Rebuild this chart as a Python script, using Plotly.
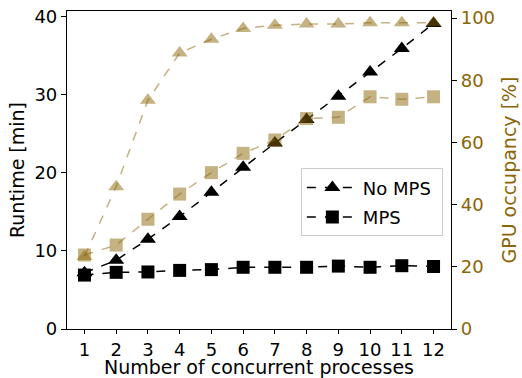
import plotly.graph_objects as go

procs = list(range(1, 13))
runtime_no_mps = [7.2, 8.8, 11.5, 14.4, 17.5, 20.7, 23.8, 26.8, 29.8, 32.9, 35.9, 39.1]
runtime_mps = [6.9, 7.25, 7.3, 7.5, 7.6, 7.9, 7.9, 7.9, 8.05, 7.9, 8.1, 8.0]
occ_no_mps = [23.3, 45.8, 73.6, 88.8, 93.2, 96.7, 97.7, 98.1, 98.1, 98.5, 98.5, 98.5]
occ_mps = [23.8, 27.0, 35.3, 43.4, 50.3, 56.5, 60.8, 67.7, 68.1, 74.7, 73.9, 74.7]

GOLD = "#8B6508"
TAN = "rgba(139,101,8,0.5)"
FONT = "DejaVu Sans"
TICK = 18
TITLE = 19

fig = go.Figure()
fig.add_trace(go.Scatter(x=procs, y=runtime_no_mps, name="No MPS\u00a0", mode="lines+markers",
                         legendgroup="a",
                         line=dict(color="black", dash="dash", width=1.5),
                         marker=dict(symbol="triangle-up", size=14, color="black")))
fig.add_trace(go.Scatter(x=procs, y=runtime_mps, name="MPS", mode="lines+markers",
                         legendgroup="b",
                         line=dict(color="black", dash="dash", width=1.5),
                         marker=dict(symbol="square", size=13, color="black")))
fig.add_trace(go.Scatter(x=procs, y=occ_no_mps, yaxis="y2", showlegend=False, mode="lines+markers",
                         line=dict(color=TAN, dash="dash", width=1.5),
                         marker=dict(symbol="triangle-up", size=14, color=TAN)))
fig.add_trace(go.Scatter(x=procs, y=occ_mps, yaxis="y2", showlegend=False, mode="lines+markers",
                         line=dict(color=TAN, dash="dash", width=1.5),
                         marker=dict(symbol="square", size=13, color=TAN)))

fig.update_layout(
    width=522, height=378,
    margin=dict(l=67, r=71, t=11, b=49, autoexpand=False),
    plot_bgcolor="white", paper_bgcolor="white",
    font=dict(family=FONT, size=16, color="black"),
    xaxis=dict(range=[0.45, 12.55], tickmode="linear", tick0=1, dtick=1,
               showline=True, linecolor="black", linewidth=1.2, mirror=True,
               ticks="outside", ticklen=4, tickcolor="black", showgrid=False, zeroline=False,
               automargin=False, tickfont=dict(size=TICK),
               title=dict(text="Number of concurrent processes", standoff=5, font=dict(size=TITLE))),
    yaxis=dict(range=[0, 40.7], tickmode="linear", tick0=0, dtick=10,
               showline=True, linecolor="black", linewidth=1.2,
               ticks="outside", ticklen=5, tickcolor="black", showgrid=False, zeroline=False,
               automargin=False, tickfont=dict(size=TICK),
               title=dict(text="Runtime [min]", standoff=4, font=dict(size=TITLE))),
    yaxis2=dict(range=[0, 102.3], tickmode="linear", tick0=0, dtick=20, overlaying="y", side="right",
                showline=True, linecolor="black", linewidth=1.2,
                ticks="outside", ticklen=5, tickcolor="black", showgrid=False, zeroline=False,
                automargin=False,
                tickfont=dict(color=GOLD, size=TICK),
                title=dict(text="GPU occupancy [%]", font=dict(color=GOLD, size=TITLE), standoff=8)),
    legend=dict(x=0.609, y=0.505, xanchor="left", yanchor="top",
                bgcolor="white", bordercolor="#cccccc", borderwidth=1,
                traceorder="grouped", tracegroupgap=3, itemwidth=51,
                font=dict(size=TICK)),
)

fig.write_html("out.html", config={"displayModeBar": False},
               post_script="document.body.style.margin='0';document.body.style.padding='0';")
